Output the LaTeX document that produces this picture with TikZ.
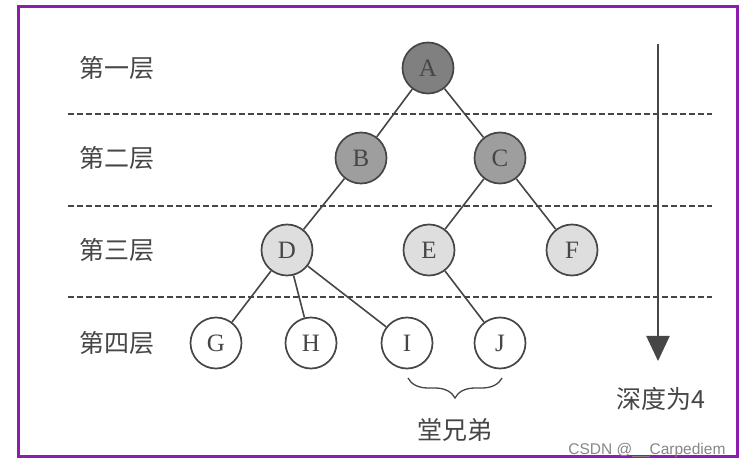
\documentclass[tikz,border=0pt]{standalone}
\usepackage{fontspec}
\setmainfont{Liberation Serif}
\newfontfamily\cjk{Noto Sans CJK SC}
\newfontfamily\wm{Liberation Sans}
\usetikzlibrary{arrows.meta,decorations.pathreplacing}
\definecolor{frame}{RGB}{140,30,175}
\definecolor{ink}{RGB}{70,70,70}
\definecolor{darkfill}{RGB}{128,128,128}
\definecolor{midfill}{RGB}{158,158,158}
\definecolor{lightfill}{RGB}{222,222,222}
\tikzset{
  tnode/.style={circle,draw=ink,line width=1.7pt,minimum size=51pt,inner sep=0pt,font=\fontsize{25}{25}\selectfont,text=ink},
  lvl1/.style={tnode,fill=darkfill},
  lvl2/.style={tnode,fill=midfill},
  lvl3/.style={tnode,fill=lightfill},
  lvl4/.style={tnode,fill=white},
  edge/.style={draw=ink,line width=1.6pt},
  sep/.style={draw=ink,line width=1.3pt,dash pattern=on 6pt off 3pt},
  lab/.style={text=ink,font=\cjk\fontsize{25}{25}\selectfont},
}
\begin{document}
\begin{tikzpicture}[x=1pt,y=-1pt]
\useasboundingbox (0,0) rectangle (742,470);
\fill[white] (0,0) rectangle (742,470);
\draw[frame,line width=3pt] (18,7) rectangle (737,456);
% separators
\coordinate (s1a) at (68,114); \coordinate (s1b) at (712,114);
\coordinate (s2a) at (68,206); \coordinate (s2b) at (712,206);
\coordinate (s3a) at (68,297); \coordinate (s3b) at (712,297);
\draw[sep] (s1a) -- (s1b);
\draw[sep] (s2a) -- (s2b);
\draw[sep] (s3a) -- (s3b);
% labels
\node[lab] (l1) at (117,68) {第一层};
\node[lab] (l2) at (117,158) {第二层};
\node[lab] (l3) at (117,250) {第三层};
\node[lab] (l4) at (117,343) {第四层};
% nodes
\node[lvl1] (A) at (428,68) {A};
\node[lvl2] (B) at (361,158) {B};
\node[lvl2] (C) at (500,158) {C};
\node[lvl3] (D) at (287,250) {D};
\node[lvl3] (E) at (429,250) {E};
\node[lvl3] (F) at (572,250) {F};
\node[lvl4] (G) at (216,343) {G};
\node[lvl4] (H) at (311,343) {H};
\node[lvl4] (I) at (407,343) {I};
\node[lvl4] (J) at (500,343) {J};
\draw[edge] (A) -- (B);
\draw[edge] (A) -- (C);
\draw[edge] (B) -- (D);
\draw[edge] (C) -- (E);
\draw[edge] (C) -- (F);
\draw[edge] (D) -- (G);
\draw[edge] (D) -- (H);
\draw[edge] (D) -- (I);
\draw[edge] (E) -- (J);
% depth arrow
\coordinate (ar1) at (658,44);
\coordinate (ar2) at (658,361);
\draw[ink,line width=2.2pt,-{Triangle[width=23pt,length=25pt]}] (ar1) -- (ar2);
\node[lab] (depth) at (661,399) {深度为4};
% brace
\coordinate (br1) at (408,378);
\coordinate (br2) at (502,378);
\draw[ink,line width=1.3pt,decorate,decoration={brace,amplitude=20pt,mirror}] (br1) -- (br2);
\node[lab] (cousins) at (455,430) {堂兄弟};
% watermark
\node[text=ink!65,font=\wm\fontsize{15.5}{15.5}\selectfont,anchor=east] (wm) at (729,450) {CSDN @\_\_Carpediem};
\end{tikzpicture}
\end{document}
